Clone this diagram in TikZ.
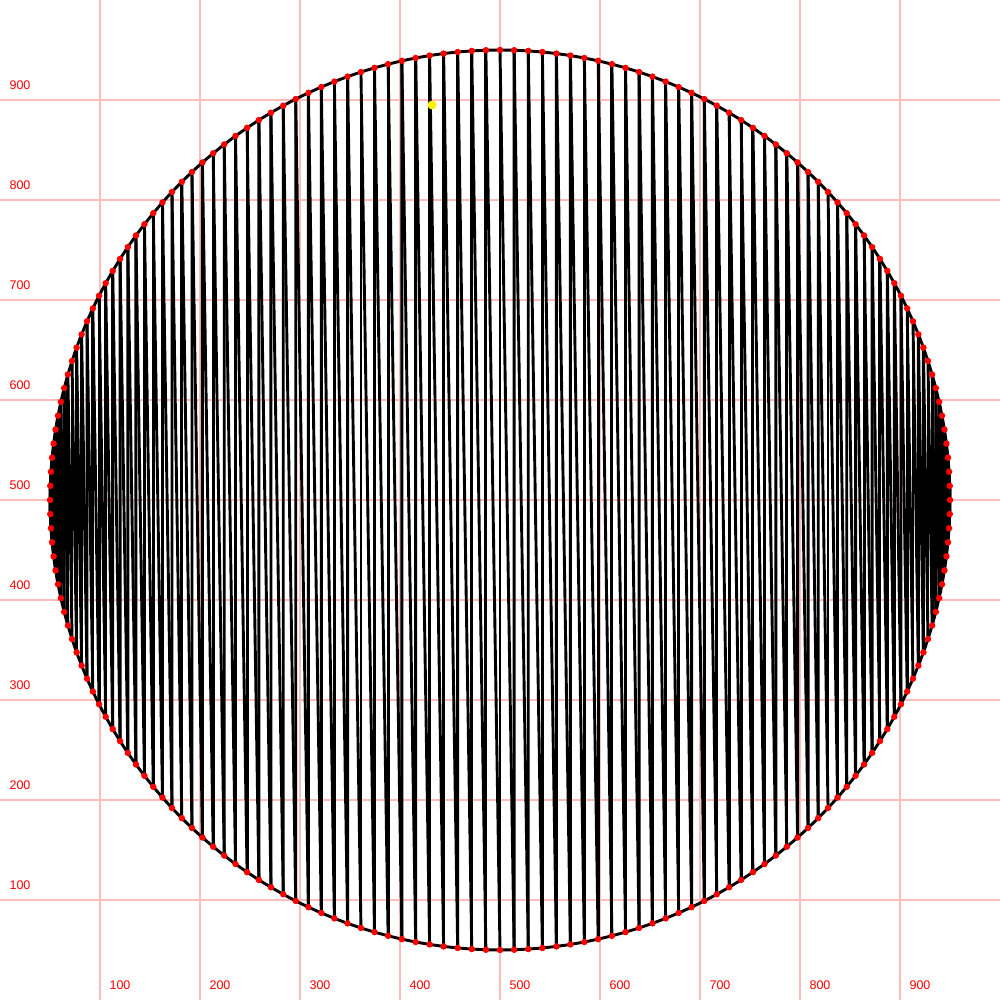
\documentclass[tikz,border=0pt]{standalone}
\usepackage{fontspec}
\setmainfont{Liberation Sans}
\definecolor{gridpink}{RGB}{255,188,188}
\definecolor{lblred}{RGB}{255,0,0}
\begin{document}
\begin{tikzpicture}[x=1pt,y=1pt,
  gridline/.style={draw=gridpink, line width=1.8pt},
  lbl/.style={text=lblred, font=\fontsize{12.5}{13}\selectfont, inner sep=0pt},
  chord/.style={draw=black, line width=2.9pt, line join=round},
  dot/.style={circle, fill=red, inner sep=0pt, minimum size=6.5pt},
  ydot/.style={circle, fill=yellow, inner sep=0pt, minimum size=9pt}]
\useasboundingbox (0,0) rectangle (1000,1000);
\fill[white] (0,0) rectangle (1000,1000);
% grid
\foreach \k in {100,200,...,900} {
  \draw[gridline] (\k,0) -- (\k,1000);
  \draw[gridline] (0,\k) -- (1000,\k);
  \node[lbl] (xl\k) at (\k+20,15) {\k};
  \node[lbl] (yl\k) at (20,\k+15) {\k};
}
% points on the circle
\foreach \i in {0,...,199} {
  \coordinate (p\i) at ({500+450*cos(\i*1.8)},{500+450*sin(\i*1.8)});
}
% outline
\draw[chord] (p0) \foreach \i in {1,...,199} { -- (p\i) } -- cycle;
% zigzag chords: vertical ones (i, -i) and slanted ones (i, 1-i)
\foreach \i in {1,...,99} {
  \pgfmathtruncatemacro{\j}{200-\i}
  \draw[chord] (p\i) -- (p\j);
}
\foreach \i in {1,...,100} {
  \pgfmathtruncatemacro{\j}{mod(201-\i,200)}
  \draw[chord] (p\i) -- (p\j);
}
% dots
\foreach \i in {0,...,199} {
  \node[dot] (d\i) at (p\i) {};
}
\node[ydot] (yd) at (432,895) {};
\end{tikzpicture}
\end{document}
